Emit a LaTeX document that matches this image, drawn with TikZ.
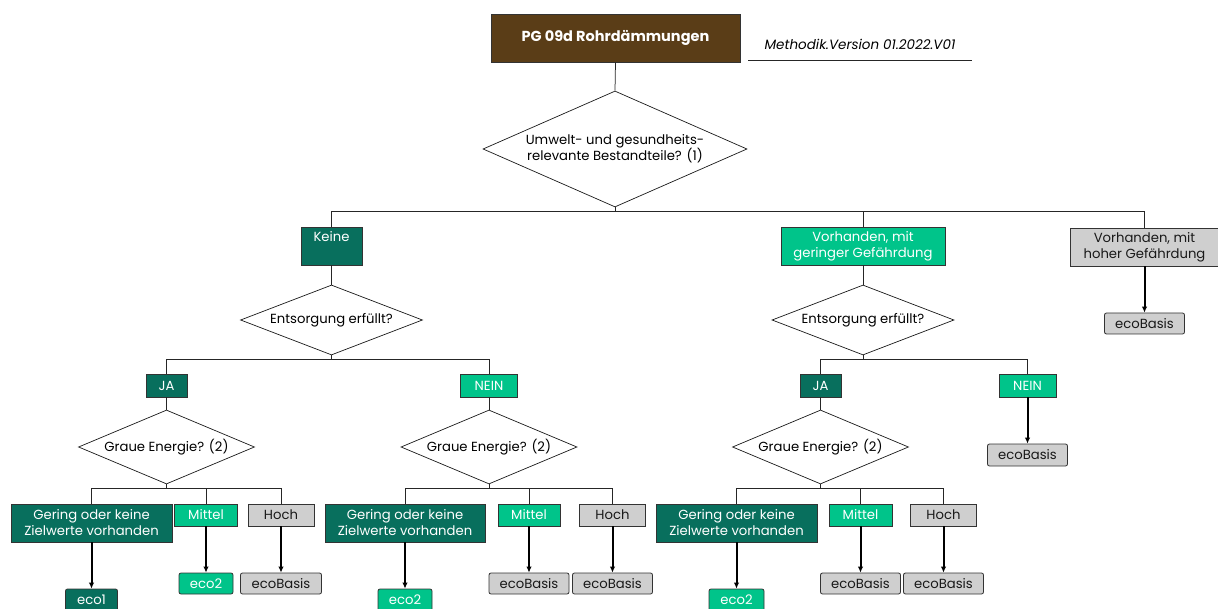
\documentclass[tikz,border=0pt]{standalone}
\usepackage{fontspec}
\setmainfont{Poppins}
\usetikzlibrary{shapes.geometric,arrows.meta}
\definecolor{brownc}{HTML}{5A3D17}
\definecolor{dkg}{HTML}{086F5D}
\definecolor{ltg}{HTML}{00C48A}
\definecolor{grc}{HTML}{CFCFCF}
\definecolor{bord}{HTML}{333333}
\begin{document}
\begin{tikzpicture}[x=1pt,y=-1pt,
 font=\fontsize{13.2}{16}\selectfont,
 box/.style={draw=bord, line width=0.8pt, inner sep=0pt, align=center},
 titlebox/.style={box, fill=brownc, text=white, font=\fontsize{14.5}{17}\selectfont\bfseries},
 dk/.style={box, fill=dkg, text=white},
 lt/.style={box, fill=ltg, text=white},
 gr/.style={box, fill=grc, text=black!90},
 leaf/.style={rounded corners=2pt},
 dia/.style={draw=black!90, shape=diamond, aspect=2.5, inner sep=0pt, align=center, line width=0.7pt},
 ln/.style={draw=black!85, line width=0.75pt},
 arr/.style={draw=black, line width=2pt, -{Latex[length=6pt,width=5.5pt]}}
]
\useasboundingbox (0,0) rectangle (1218,609);
\clip (0,0) rectangle (1218,609);

% title
\node[titlebox, minimum width=249, minimum height=48] (title) at (615.5,38) {PG 09d Rohrdämmungen};
\node[font=\fontsize{13.5}{16}\selectfont\itshape] (meth) at (860,44) {Methodik.Version 01.2022.V01};
\coordinate (ml) at (748,60);
\coordinate (mr) at (972,60);
\draw[line width=0.8pt, black!85] (ml) -- (mr);

% first decision
\node[dia, minimum width=264, minimum height=116] (d1) at (615,149) {Umwelt- und gesundheits-\\relevante Bestandteile? (1)};
\draw[ln] (title.south) -- (d1.north);
\coordinate (b1) at (615,211);

\node[dk, minimum width=61, minimum height=38] (keine) at (331.5,246) {Keine\\\phantom{g}};
\node[lt, minimum width=164, minimum height=38] (vg) at (863,246) {Vorhanden, mit\\geringer Gefährdung};
\node[gr, minimum width=148, minimum height=38] (vh) at (1144.5,247) {Vorhanden, mit\\hoher Gefährdung};
\draw[ln] (d1.south) -- (b1) -| (keine.north);
\draw[ln] (b1) -| (vg.north);
\draw[ln] (b1) -| (vh.north);

\node[gr, leaf, minimum width=80, minimum height=21] (vhe) at (1144.5,323.5) {ecoBasis};
\draw[arr] (vh.south) -- (vhe.north);

% left branch
\node[dia, minimum width=182, minimum height=70] (e1) at (331.5,320) {Entsorgung erfüllt?};
\draw[ln] (keine.south) -- (e1.north);
\coordinate (b2) at (331.5,359);
\node[dk, minimum width=41, minimum height=23] (ja1) at (166.5,385.5) {JA};
\node[lt, minimum width=57, minimum height=23] (nein1) at (489,385.5) {NEIN};
\draw[ln] (e1.south) -- (b2) -| (ja1.north);
\draw[ln] (b2) -| (nein1.north);

% Graue Energie 1
\node[dia, minimum width=176, minimum height=74] (g1) at (166.5,447) {Graue Energie? (2)};
\draw[ln] (ja1.south) -- (g1.north);
\coordinate (b3) at (166.5,488);
\node[dk, minimum width=161, minimum height=38] (ger1) at (91.5,523) {Gering oder keine\\Zielwerte vorhanden};
\node[lt, minimum width=63, minimum height=22] (mit1) at (206,515) {Mittel};
\node[gr, minimum width=66, minimum height=22] (hoch1) at (281,515) {Hoch};
\draw[ln] (g1.south) -- (b3) -| (ger1.north);
\draw[ln] (b3) -| (mit1.north);
\draw[ln] (b3) -| (hoch1.north);
\node[dk, leaf, minimum width=52, minimum height=22] (l11) at (91.5,600) {eco1};
\node[lt, leaf, minimum width=54, minimum height=21] (l12) at (206,583.5) {eco2};
\node[gr, leaf, minimum width=81, minimum height=21] (l13) at (281,583.5) {ecoBasis};
\draw[arr] (ger1.south) -- (l11.north);
\draw[arr] (mit1.south) -- (l12.north);
\draw[arr] (hoch1.south) -- (l13.north);

% Graue Energie 2
\node[dia, minimum width=176, minimum height=74] (g2) at (489,447) {Graue Energie? (2)};
\draw[ln] (nein1.south) -- (g2.north);
\coordinate (b4) at (489,488);
\node[dk, minimum width=160, minimum height=38] (ger2) at (405,523) {Gering oder keine\\Zielwerte vorhanden};
\node[lt, minimum width=62, minimum height=22] (mit2) at (529,515) {Mittel};
\node[gr, minimum width=66, minimum height=22] (hoch2) at (612.5,515) {Hoch};
\draw[ln] (g2.south) -- (b4) -| (ger2.north);
\draw[ln] (b4) -| (mit2.north);
\draw[ln] (b4) -| (hoch2.north);
\node[lt, leaf, minimum width=54, minimum height=22] (l21) at (405,600) {eco2};
\node[gr, leaf, minimum width=80, minimum height=21] (l22) at (529,583.5) {ecoBasis};
\node[gr, leaf, minimum width=80, minimum height=21] (l23) at (612.5,583.5) {ecoBasis};
\draw[arr] (ger2.south) -- (l21.north);
\draw[arr] (mit2.south) -- (l22.north);
\draw[arr] (hoch2.south) -- (l23.north);

% right branch
\node[dia, minimum width=182, minimum height=70] (e2) at (863,320) {Entsorgung erfüllt?};
\draw[ln] (vg.south) -- (e2.north);
\coordinate (b5) at (863,359);
\node[dk, minimum width=41, minimum height=23] (ja2) at (820.5,385.5) {JA};
\node[lt, minimum width=57, minimum height=23] (nein2) at (1027.5,385.5) {NEIN};
\draw[ln] (e2.south) -- (b5) -| (ja2.north);
\draw[ln] (b5) -| (nein2.north);
\node[gr, leaf, minimum width=80, minimum height=22] (n2e) at (1027.5,455) {ecoBasis};
\draw[arr] (nein2.south) -- (n2e.north);

% Graue Energie 3
\node[dia, minimum width=176, minimum height=74] (g3) at (820.5,447) {Graue Energie? (2)};
\draw[ln] (ja2.south) -- (g3.north);
\coordinate (b6) at (820.5,488);
\node[dk, minimum width=161, minimum height=38] (ger3) at (736.5,523) {Gering oder keine\\Zielwerte vorhanden};
\node[lt, minimum width=63, minimum height=22] (mit3) at (860.5,515) {Mittel};
\node[gr, minimum width=66, minimum height=22] (hoch3) at (943.5,515) {Hoch};
\draw[ln] (g3.south) -- (b6) -| (ger3.north);
\draw[ln] (b6) -| (mit3.north);
\draw[ln] (b6) -| (hoch3.north);
\node[lt, leaf, minimum width=55, minimum height=22] (l31) at (736.5,600) {eco2};
\node[gr, leaf, minimum width=80, minimum height=21] (l32) at (860.5,583.5) {ecoBasis};
\node[gr, leaf, minimum width=80, minimum height=21] (l33) at (943.5,583.5) {ecoBasis};
\draw[arr] (ger3.south) -- (l31.north);
\draw[arr] (mit3.south) -- (l32.north);
\draw[arr] (hoch3.south) -- (l33.north);
\end{tikzpicture}
\end{document}
